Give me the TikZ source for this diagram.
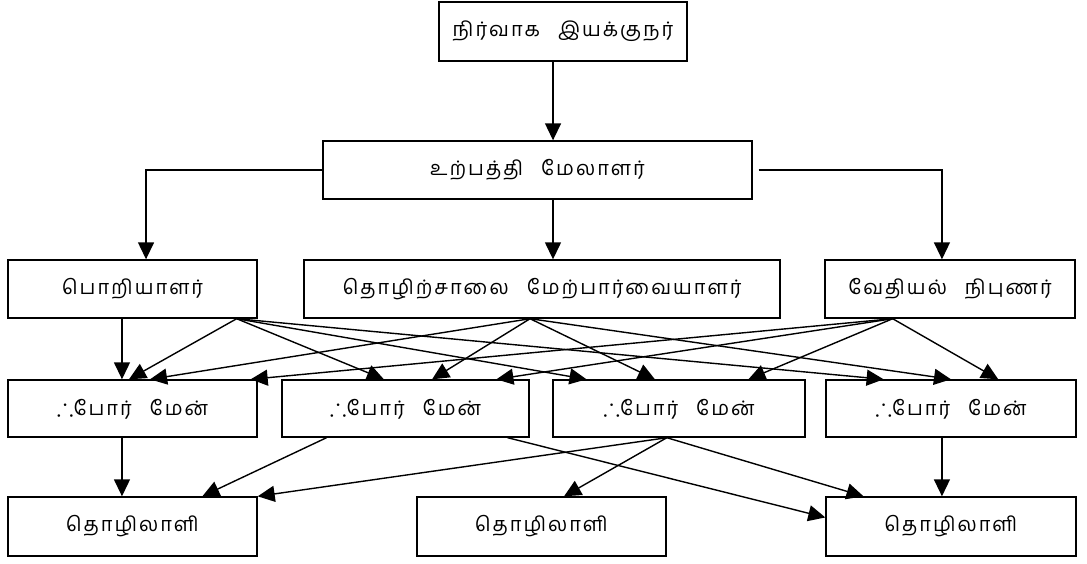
\documentclass[tikz,border=0pt]{standalone}
\usepackage{amssymb}
\usepackage{fontspec}
\newfontfamily\tamil[Script=Tamil,LetterSpace=10]{Hind Madurai}
\usetikzlibrary{arrows.meta,calc}
\newcommand{\gap}{\hspace{0.9em}}
\newcommand{\thr}{{\fontsize{25}{25}\selectfont$\therefore$}}

\begin{document}
\begin{tikzpicture}[x=1pt,y=-1pt,
  box/.style={draw, line width=1.4pt, inner sep=0pt, align=center,
    font=\tamil\fontsize{20}{24}\selectfont},
  arr/.style={line width=1.4pt, -{Triangle[length=17pt,width=16pt]}}]
\useasboundingbox (0,0) rectangle (1087,563);

% management levels
\node[box, minimum width=248pt, minimum height=59pt] (top) at (563,31.5) {நிர்வாக\gap இயக்குநர்};
\node[box, minimum width=429pt, minimum height=58pt] (mid) at (537.5,170) {உற்பத்தி\gap மேலாளர்};

% specialists
\node[box, minimum width=249pt, minimum height=58pt] (eng) at (132.5,289) {பொறியாளர்};
\node[box, minimum width=476pt, minimum height=58pt] (sup) at (542,289) {தொழிற்சாலை\gap மேற்பார்வையாளர்};
\node[box, minimum width=250pt, minimum height=58pt] (chem) at (950,289) {வேதியல்\gap நிபுணர்};

% foremen
\node[box, minimum width=249pt, minimum height=57pt] (f1) at (132.5,408.5) {\thr போர்\gap மேன்};
\node[box, minimum width=247pt, minimum height=57pt] (f2) at (405.5,408.5) {\thr போர்\gap மேன்};
\node[box, minimum width=252pt, minimum height=57pt] (f3) at (679,408.5) {\thr போர்\gap மேன்};
\node[box, minimum width=250pt, minimum height=57pt] (f4) at (951,408.5) {\thr போர்\gap மேன்};

% workers
\node[box, minimum width=249pt, minimum height=59pt] (w1) at (132.5,526.5) {தொழிலாளி};
\node[box, minimum width=249pt, minimum height=59pt] (w2) at (541.5,526.5) {\raisebox{-5pt}{தொழிலாளி}};
\node[box, minimum width=250pt, minimum height=59pt] (w3) at (951,526.5) {தொழிலாளி};

% director to manager
\coordinate (t1) at ($(top.south west)!0.46!(top.south east)$);
\draw[arr] (t1) -- (t1 |- mid.north);

% manager to specialists
\coordinate (m2) at ($(mid.south west)!0.536!(mid.south east)$);
\coordinate (engIn) at ($(eng.north west)!0.554!(eng.north east)$);
\coordinate (chemIn) at ($(chem.north west)!0.468!(chem.north east)$);
\draw[arr] (mid.west) -| (engIn);
\draw[arr] (m2) -- (m2 |- sup.north);
\draw[arr] ([xshift=6pt]mid.east) -| (chemIn);

% specialists to foremen
\coordinate (engV) at ($(eng.south west)!0.458!(eng.south east)$);
\coordinate (engOut) at ($(eng.south west)!0.916!(eng.south east)$);
\coordinate (supOut) at ($(sup.south west)!0.475!(sup.south east)$);
\coordinate (chemOut) at ($(chem.south west)!0.272!(chem.south east)$);
\draw[arr] (engV) -- (engV |- f1.north);
\draw[arr] (engOut) -- ($(f1.north west)!0.486!(f1.north east)$);
\draw[arr] (engOut) -- ($(f2.north west)!0.413!(f2.north east)$);
\draw[arr] (engOut) -- ($(f3.north west)!0.135!(f3.north east)$);
\draw[arr] (engOut) -- ($(f4.north west)!0.232!(f4.north east)$);
\draw[arr] (supOut) -- ($(f1.north west)!0.570!(f1.north east)$);
\draw[arr] (supOut) -- ($(f2.north west)!0.607!(f2.north east)$);
\draw[arr] (supOut) -- ($(f3.north west)!0.405!(f3.north east)$);
\draw[arr] (supOut) -- ($(f4.north west)!0.500!(f4.north east)$);
\draw[arr] (chemOut) -- ($(f1.north west)!0.972!(f1.north east)$);
\draw[arr] (chemOut) -- ($(f2.north west)!0.866!(f2.north east)$);
\draw[arr] (chemOut) -- ($(f3.north west)!0.774!(f3.north east)$);
\draw[arr] (chemOut) -- ($(f4.north west)!0.688!(f4.north east)$);

% foremen to workers
\coordinate (f1V) at ($(f1.south west)!0.458!(f1.south east)$);
\coordinate (f2a) at ($(f2.south west)!0.182!(f2.south east)$);
\coordinate (f2b) at ($(f2.south west)!0.911!(f2.south east)$);
\coordinate (f3Out) at ($(f3.south west)!0.452!(f3.south east)$);
\coordinate (f4V) at ($(f4.south west)!0.464!(f4.south east)$);
\draw[arr] (f1V) -- (f1V |- w1.north);
\draw[arr] (f2a) -- ($(w1.north west)!0.779!(w1.north east)$);
\draw[arr] (f2b) -- ($(w3.north west)!0.35!(w3.south west)$);
\draw[arr] (f3Out) -- (w1.north east);
\draw[arr] (f3Out) -- ($(w2.north west)!0.59!(w2.north east)$);
\draw[arr] (f3Out) -- ($(w3.north west)!0.152!(w3.north east)$);
\draw[arr] (f4V) -- (f4V |- w3.north);
\end{tikzpicture}
\end{document}
